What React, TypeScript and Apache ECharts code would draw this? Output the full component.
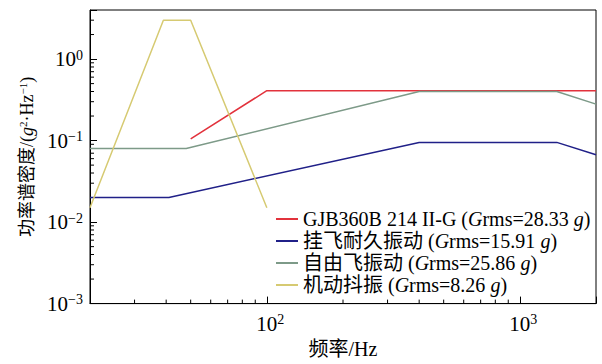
import React, { useEffect, useRef } from 'react';
import * as echarts from 'echarts';

const FONT = "'Liberation Serif', 'Times New Roman', 'Noto Sans CJK SC', serif";

// Series names and legend Grms values
const seriesNames = ['GJB360B 214 II-G', '挂飞耐久振动', '自由飞振动', '机动抖振'];
const grmsValues = ['28.33', '15.91', '25.86', '8.26'];
const seriesColors = ['#e2323c', '#202088', '#7d9a88', '#d6ca72'];

// GJB360B 214 II-G
const gjbFreq = [50, 100, 2000];
const gjbPsd = [0.105, 0.41, 0.41];
// 挂飞耐久振动
const hangFreq = [20, 41, 400, 1400, 2000];
const hangPsd = [0.02, 0.02, 0.095, 0.095, 0.067];
// 自由飞振动
const freeFreq = [20, 48, 400, 1400, 2000];
const freePsd = [0.08, 0.08, 0.4, 0.4, 0.28];
// 机动抖振
const buffetFreq = [20, 39, 50, 100];
const buffetPsd = [0.015, 3, 3, 0.015];

// Axis ranges and minor ticks
const xRange = [20, 2000];
const yRange = [0.001, 4];
const xMinorTicks = [30, 40, 50, 60, 70, 80, 90, 200, 300, 400, 500, 600, 700, 800, 900];
const yMinorTicks = [
  0.002, 0.003, 0.004, 0.005, 0.006, 0.007, 0.008, 0.009,
  0.02, 0.03, 0.04, 0.05, 0.06, 0.07, 0.08, 0.09,
  0.2, 0.3, 0.4, 0.5, 0.6, 0.7, 0.8, 0.9,
  2, 3,
];

const zip = (xs: number[], ys: number[]) => xs.map((x, i) => [x, ys[i]]);

const supLabel = (v: number) => {
  const l = Math.log10(v);
  const e = Math.round(l);
  if (Math.abs(l - e) > 1e-6) return '';
  const es = e < 0 ? '\u2212' + -e : String(e);
  return `{b|10}{s|${es}}`;
};

const baseRich = {
  b: { fontFamily: FONT, fontSize: 21, lineHeight: 22, color: '#000' },
  s: { fontFamily: FONT, fontSize: 14, lineHeight: 14, color: '#000', verticalAlign: 'top' },
};

export default function App() {
  const ref = useRef<HTMLDivElement>(null);
  useEffect(() => {
    document.body.style.margin = '0';
    const chart = echarts.init(ref.current!, null, { renderer: 'svg' });
    const lineSeries = [
      zip(gjbFreq, gjbPsd),
      zip(hangFreq, hangPsd),
      zip(freeFreq, freePsd),
      zip(buffetFreq, buffetPsd),
    ].map((data, i) => ({
      name: seriesNames[i],
      type: 'line',
      data,
      symbol: 'none',
      showSymbol: false,
      lineStyle: { width: 1.5, color: seriesColors[i] },
      itemStyle: { color: seriesColors[i] },
      z: 3,
    }));
    chart.setOption({
      animation: false,
      grid: {
        left: 90, top: 10, right: 6, bottom: 55,
        show: true, borderColor: '#000', borderWidth: 1,
      },
      legend: {
        data: seriesNames,
        orient: 'vertical',
        left: 276,
        top: 208,
        padding: 0,
        itemGap: 0,
        itemWidth: 22,
        itemHeight: 2,
        icon: 'rect',
        formatter: (name: string) => {
          const i = seriesNames.indexOf(name);
          return `{n|${name} (}{i|G}{n|rms=${grmsValues[i]} }{i|g}{n|)}`;
        },
        textStyle: {
          fontFamily: FONT,
          fontSize: 20,
          lineHeight: 22,
          color: '#000',
          rich: {
            n: { fontFamily: FONT, fontSize: 20, lineHeight: 22, color: '#000' },
            i: { fontFamily: FONT, fontSize: 20, lineHeight: 22, color: '#000', fontStyle: 'italic' },
          },
        },
      },
      xAxis: {
        type: 'log',
        logBase: 10,
        min: xRange[0],
        max: xRange[1],
        name: '频率/Hz',
        nameLocation: 'middle',
        nameGap: 32,
        nameTextStyle: { fontFamily: FONT, fontSize: 20, color: '#000' },
        axisLine: { lineStyle: { color: '#000', width: 1 } },
        axisTick: { inside: true, length: 7, lineStyle: { color: '#000' } },
        splitLine: { show: false },
        axisLabel: {
          margin: 9,
          formatter: (v: number) => {
            const s = supLabel(v);
            return s ? s.replace('{b|', '{bx|') : '';
          },
          rich: {
            ...baseRich,
            bx: { ...baseRich.b, padding: [0, 0, 0, 7] },
          },
        },
      },
      yAxis: {
        type: 'log',
        logBase: 10,
        min: yRange[0],
        max: yRange[1],
        name: '{n|功率谱密度/(}{i|g}{s|2}{n|·Hz}{s|\u22121}{n|)}',
        nameLocation: 'middle',
        nameGap: 50,
        nameRotate: 90,
        nameTextStyle: {
          fontFamily: FONT,
          fontSize: 18,
          color: '#000',
          rich: {
            n: { fontFamily: FONT, fontSize: 18, lineHeight: 20, color: '#000' },
            i: { fontFamily: FONT, fontSize: 18, lineHeight: 20, color: '#000', fontStyle: 'italic' },
            s: { fontFamily: FONT, fontSize: 11, lineHeight: 12, color: '#000', verticalAlign: 'top' },
          },
        },
        axisLine: { show: true, lineStyle: { color: '#000', width: 1 } },
        axisTick: { inside: true, length: 7, lineStyle: { color: '#000' } },
        splitLine: { show: false },
        axisLabel: {
          margin: 7,
          formatter: (v: number) => supLabel(v),
          rich: baseRich,
        },
      },
      series: [
        ...lineSeries,
        {
          type: 'custom',
          silent: true,
          data: xMinorTicks.map((v) => [v, yRange[0]]),
          renderItem: (params: any, api: any) => {
            const p = api.coord([api.value(0), api.value(1)]);
            return {
              type: 'line',
              shape: { x1: p[0], y1: p[1], x2: p[0], y2: p[1] - 4 },
              style: { stroke: '#000', lineWidth: 1 },
            };
          },
        },
        {
          type: 'custom',
          silent: true,
          data: yMinorTicks.map((v) => [xRange[0], v]),
          renderItem: (params: any, api: any) => {
            const p = api.coord([api.value(0), api.value(1)]);
            return {
              type: 'line',
              shape: { x1: p[0], y1: p[1], x2: p[0] + 4, y2: p[1] },
              style: { stroke: '#000', lineWidth: 1 },
            };
          },
        },
      ],
    });
    return () => chart.dispose();
  }, []);
  return (
    <div
      ref={ref}
      style={{ width: 602, height: 364, position: 'fixed', left: 0, top: 0, background: '#fff' }}
    />
  );
}
